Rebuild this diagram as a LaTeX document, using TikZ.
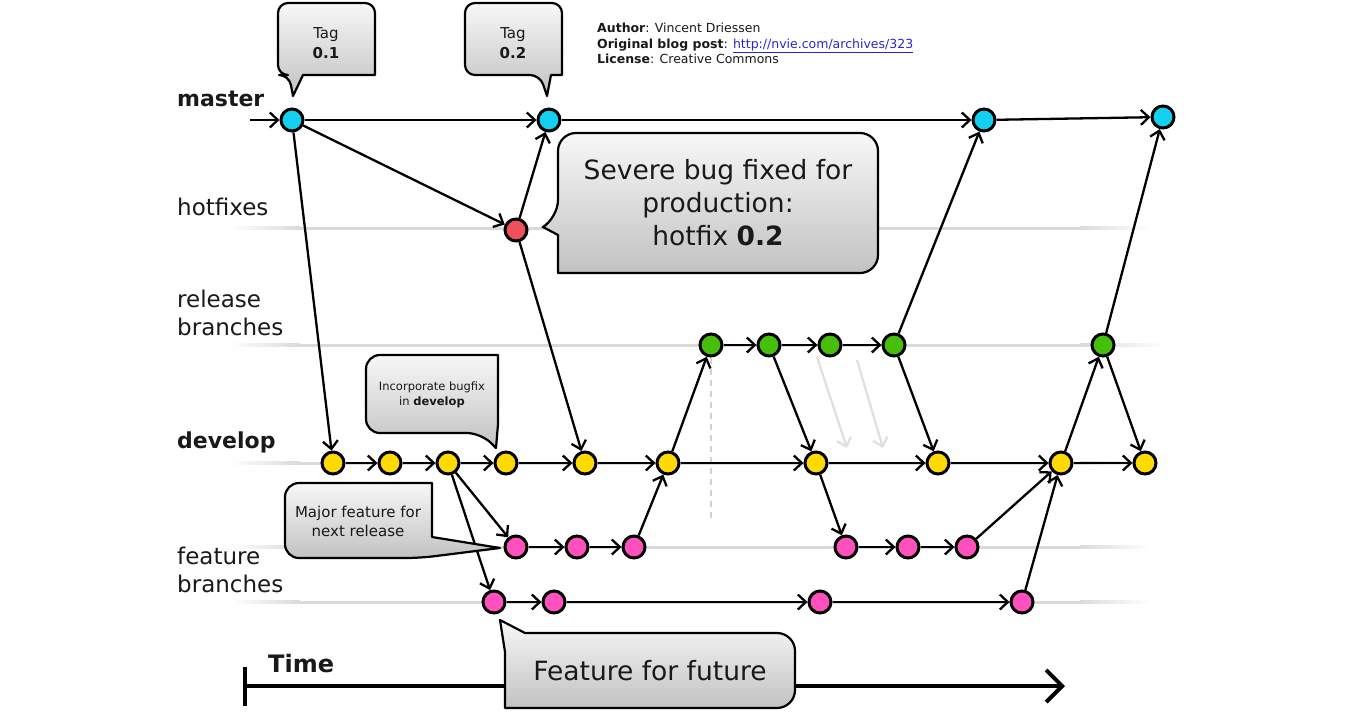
\documentclass[tikz,border=0pt]{standalone}
\usepackage{fontspec}
\setmainfont{DejaVu Sans}
\usetikzlibrary{arrows.meta}
\definecolor{mastercol}{RGB}{20,208,240}
\definecolor{hotcol}{RGB}{240,80,90}
\definecolor{relcol}{RGB}{70,190,10}
\definecolor{devcol}{RGB}{255,218,0}
\definecolor{featcol}{RGB}{255,80,190}
\definecolor{lanecol}{RGB}{218,218,218}
\definecolor{linkcol}{RGB}{40,40,200}
\definecolor{txtcol}{RGB}{25,25,25}
\begin{document}
\begin{tikzpicture}[x=1pt,y=-1pt,
  commit/.style={circle, draw=black, line width=3pt, minimum size=22pt, inner sep=0pt},
  arr/.style={line width=2.3pt, -{Straight Barb[length=8pt,width=15pt]}, shorten >=0pt},
  ghost/.style={line width=2.3pt, draw=black!12, -{Straight Barb[length=8pt,width=15pt]}},
  callout/.style={draw=black, line width=2.2pt, top color=black!3, bottom color=black!24, line join=round},
  lab/.style={font=\fontsize{23}{28}\selectfont, anchor=base west, inner sep=0pt, text=txtcol},
  blab/.style={font=\fontsize{22}{28}\selectfont\bfseries, anchor=base west, inner sep=0pt, text=txtcol},
  auth/.style={font=\fontsize{12.5}{15}\selectfont, anchor=base west, inner sep=0pt, text=txtcol}]
\useasboundingbox (0,0) rectangle (1352,716);

% lanes
\foreach \yy/\xe in {228/1150,345/1165,463/1165,547/1150,602/1150} {
  \fill[lanecol] (300,\yy-1.5) rectangle (1080,\yy+1.5);
  \shade[left color=white, right color=lanecol] (230,\yy-1.5) rectangle (300,\yy+1.5);
  \shade[left color=lanecol, right color=white] (1080,\yy-1.5) rectangle (\xe,\yy+1.5);
}

% commits
\node[commit, fill=mastercol] (m1) at (292,120) {};
\node[commit, fill=mastercol] (m2) at (549,120) {};
\node[commit, fill=mastercol] (m3) at (984,120) {};
\node[commit, fill=mastercol] (m4) at (1163,117) {};
\node[commit, fill=hotcol] (h1) at (516,230) {};
\node[commit, fill=relcol] (r1) at (711,345) {};
\node[commit, fill=relcol] (r2) at (769,345) {};
\node[commit, fill=relcol] (r3) at (830,345) {};
\node[commit, fill=relcol] (r4) at (894,345) {};
\node[commit, fill=relcol] (r5) at (1103,345) {};
\node[commit, fill=devcol] (d1) at (333,463) {};
\node[commit, fill=devcol] (d2) at (390,463) {};
\node[commit, fill=devcol] (d3) at (448,463) {};
\node[commit, fill=devcol] (d4) at (506,463) {};
\node[commit, fill=devcol] (d5) at (585,463) {};
\node[commit, fill=devcol] (d6) at (668,463) {};
\node[commit, fill=devcol] (d7) at (816,463) {};
\node[commit, fill=devcol] (d8) at (938,463) {};
\node[commit, fill=devcol] (d9) at (1061,463) {};
\node[commit, fill=devcol] (d10) at (1145,463) {};
\node[commit, fill=featcol] (f1) at (516,547) {};
\node[commit, fill=featcol] (f2) at (577,547) {};
\node[commit, fill=featcol] (f3) at (634,547) {};
\node[commit, fill=featcol] (f4) at (846,547) {};
\node[commit, fill=featcol] (f5) at (908,547) {};
\node[commit, fill=featcol] (f6) at (967,547) {};
\node[commit, fill=featcol] (g1) at (494,602) {};
\node[commit, fill=featcol] (g2) at (554,602) {};
\node[commit, fill=featcol] (g3) at (820,602) {};
\node[commit, fill=featcol] (g4) at (1022,602) {};

% dashed and ghost arrows
\coordinate (dashend) at (711,520);
\draw[black!18, line width=1.8pt, dash pattern=on 6pt off 5pt] (r1.south) -- (dashend);
\coordinate (ga1) at (817,357); \coordinate (gb1) at (847,448);
\coordinate (ga2) at (857,360); \coordinate (gb2) at (883,448);
\draw[ghost] (ga1) -- (gb1);
\draw[ghost] (ga2) -- (gb2);

% time arrow
\coordinate (t0) at (245,686);
\coordinate (t1) at (1065,686);
\coordinate (tb1) at (245,667);
\coordinate (tb2) at (245,706);
\draw[line width=4.5pt] (tb1) -- (tb2);
\draw[line width=4pt, -{Straight Barb[length=16pt,width=32pt]}] (t0) -- (t1);

% edges
\coordinate (min) at (250,120);
\draw[arr] (min) -- (m1);
\draw[arr] (m1) -- (m2);
\draw[arr] (m2) -- (m3);
\draw[arr] (m3) -- (m4);
\draw[arr] (m1) -- (h1);
\draw[arr] (m1) -- (d1);
\draw[arr] (h1) -- (m2);
\draw[arr] (h1) -- (d5);
\draw[arr] (d1) -- (d2);
\draw[arr] (d2) -- (d3);
\draw[arr] (d3) -- (d4);
\draw[arr] (d4) -- (d5);
\draw[arr] (d5) -- (d6);
\draw[arr] (d6) -- (d7);
\draw[arr] (d7) -- (d8);
\draw[arr] (d8) -- (d9);
\draw[arr] (d9) -- (d10);
\draw[arr] (d3) -- (f1);
\draw[arr] (d3) -- (g1);
\draw[arr] (f1) -- (f2);
\draw[arr] (f2) -- (f3);
\draw[arr] (f3) -- (d6);
\draw[arr] (g1) -- (g2);
\draw[arr] (g2) -- (g3);
\draw[arr] (g3) -- (g4);
\draw[arr] (g4) -- (d9);
\draw[arr] (d6) -- (r1);
\draw[arr] (r1) -- (r2);
\draw[arr] (r2) -- (r3);
\draw[arr] (r3) -- (r4);
\draw[arr] (r2) -- (d7);
\draw[arr] (r4) -- (d8);
\draw[arr] (r4) -- (m3);
\draw[arr] (d7) -- (f4);
\draw[arr] (f4) -- (f5);
\draw[arr] (f5) -- (f6);
\draw[arr] (f6) -- (d9);
\draw[arr] (d9) -- (r5);
\draw[arr] (r5) -- (m4);
\draw[arr] (r5) -- (d10);

% callouts
\draw[callout] (326,3) [rounded corners=10] -- (278,3) -- (278,75) -- (289,75) [sharp corners] -- (293,96) -- (303,75) -- (375,75) [rounded corners=10] -- (375,3) -- cycle;
\node[font=\fontsize{15}{20}\selectfont, align=center, text=txtcol] (tag1) at (326,43) {Tag\\\textbf{0.1}};

\draw[callout] (513,3) [rounded corners=10] -- (465,3) -- (465,75) -- (540,75) [sharp corners] -- (547,96) -- (551,75) -- (562,75) [rounded corners=10] -- (562,3) -- cycle;
\node[font=\fontsize{15}{20}\selectfont, align=center, text=txtcol] (tag2) at (513,43) {Tag\\\textbf{0.2}};

\draw[callout] (718,133) [rounded corners=18] -- (558,133) -- (558,218) [sharp corners] -- (543,227) -- (558,235) -- (558,273) [rounded corners=18] -- (878,273) -- (878,133) -- cycle;
\node[font=\fontsize{26.5}{33}\selectfont, align=center, text=txtcol] (sev) at (718,203) {Severe bug fixed for\\production:\\hotfix \textbf{0.2}};

\draw[callout] (432,355) [rounded corners=14] -- (366,355) -- (366,433) -- (481,433) [sharp corners] -- (496,448) -- (498,424) -- (498,355) [rounded corners=14] -- cycle;
\node[font=\fontsize{11.5}{15}\selectfont, align=center, text=txtcol] (inc) at (432,395) {Incorporate bugfix\\in \textbf{develop}};

\draw[callout] (358,483) [rounded corners=14] -- (285,483) -- (285,558) -- (420,558) [sharp corners] -- (500,548) -- (432,537) -- (432,483) [rounded corners=14] -- cycle;
\node[font=\fontsize{15}{19}\selectfont, align=center, text=txtcol] (maj) at (358,521) {Major feature for\\next release};

\draw[callout] (650,633) -- (525,633) -- (500,620) -- (505,652) -- (505,708) [rounded corners=18] -- (795,708) -- (795,633) -- cycle;
\node[font=\fontsize{26.5}{33}\selectfont, text=txtcol] (fut) at (650,671) {Feature for future};

% lane labels
\node[blab] (lmaster) at (177,106) {master};
\node[lab] (lhot) at (177,215) {hotfixes};
\node[lab] (lrel1) at (177,307) {release};
\node[lab] (lrel2) at (177,335) {branches};
\node[blab] (ldev) at (177,448) {develop};
\node[lab] (lfeat1) at (177,564) {feature};
\node[lab] (lfeat2) at (177,592) {branches};
\node[font=\fontsize{24}{28}\selectfont\bfseries, anchor=base west, inner sep=0pt, text=txtcol] (ltime) at (268,672) {Time};

% author block
\node[auth] (a1) at (597,32) {\textbf{Author}: Vincent Driessen};
\node[auth] (a2) at (597,48) {\textbf{Original blog post}: \textcolor{linkcol}{\underline{http://nvie.com/archives/323}}};
\node[auth] (a3) at (597,63.5) {\textbf{License}: Creative Commons};
\end{tikzpicture}
\end{document}
